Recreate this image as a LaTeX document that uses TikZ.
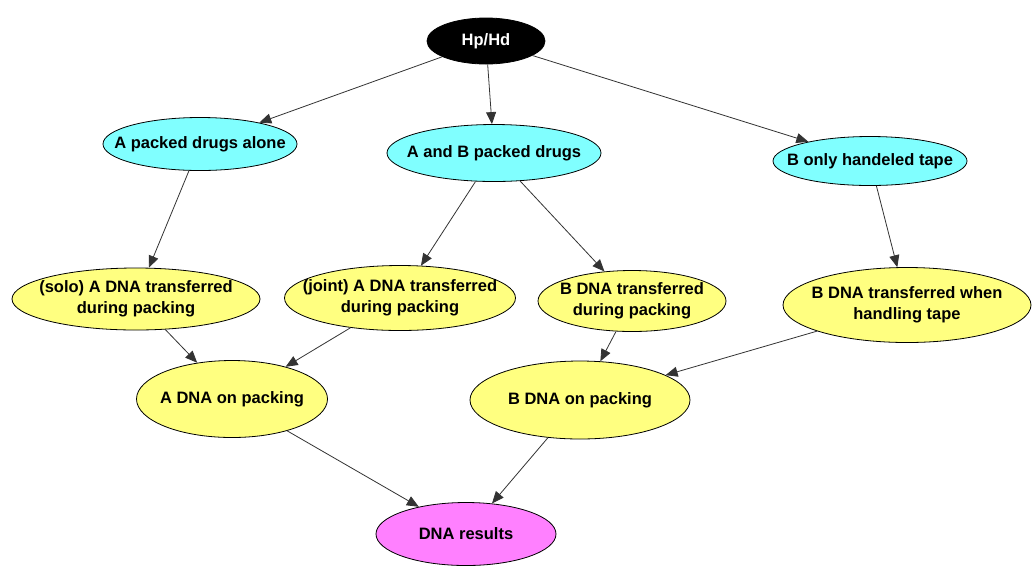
\documentclass[tikz,border=0pt]{standalone}
\usepackage{fontspec}
\setmainfont{Liberation Sans}
\usetikzlibrary{shapes.geometric,arrows.meta}
\definecolor{cyanfill}{HTML}{80FFFF}
\definecolor{yellowfill}{HTML}{FFFF80}
\definecolor{pinkfill}{HTML}{FF80FF}
\begin{document}
\begin{tikzpicture}[x=1pt,y=-1pt,
  nd/.style={ellipse,draw=black,line width=0.8pt,inner xsep=-50pt,inner ysep=-20pt,align=center,
    font=\fontsize{16.5}{20.5}\selectfont\bfseries},
  cy/.style={nd,fill=cyanfill},
  yl/.style={nd,fill=yellowfill},
  pk/.style={nd,fill=pinkfill},
  conn/.style={draw=black!80,line width=0.8pt,-{Triangle[length=12pt,width=10pt]}}]
\useasboundingbox (0,0) rectangle (1032,566);
\fill[white] (0,0) rectangle (1032,566);
\node[nd,fill=black,text=white,inner xsep=-20pt,minimum width=118,minimum height=46] (h) at (486,41) {Hp/Hd};
\node[cy,minimum width=194,minimum height=53] (ap) at (200,144) {A packed drugs alone};
\node[cy,minimum width=214,minimum height=57] (abp) at (494,153) {A and B packed drugs};
\node[cy,minimum width=194,minimum height=49] (bt) at (870,161) {B only handeled tape};
\node[yl,minimum width=248,minimum height=62] (solo) at (136,299) {(solo) A DNA transferred\\during packing};
\node[yl,minimum width=231,minimum height=65] (joint) at (400,298) {(joint) A DNA transferred\\during packing};
\node[yl,minimum width=188,minimum height=61] (bdp) at (632,301) {B DNA transferred\\during packing};
\node[yl,minimum width=248,minimum height=75] (bht) at (907,305) {B DNA transferred when\\handling tape};
\node[yl,minimum width=191,minimum height=77] (adna) at (232,399) {A DNA on packing};
\node[yl,minimum width=220,minimum height=78] (bdna) at (580,400) {B DNA on packing};
\node[pk,minimum width=180,minimum height=63] (res) at (466,534) {DNA results};
\draw[conn] (h) -- (ap);
\draw[conn] (h) -- (abp);
\draw[conn] (h) -- (bt);
\draw[conn] (ap) -- (solo);
\draw[conn] (abp) -- (joint);
\draw[conn] (abp) -- (bdp);
\draw[conn] (bt) -- (bht);
\draw[conn] (solo) -- (adna);
\draw[conn] (joint) -- (adna);
\draw[conn] (bdp) -- (bdna);
\draw[conn] (bht) -- (bdna);
\draw[conn] (adna) -- (res);
\draw[conn] (bdna) -- (res);
\end{tikzpicture}
\end{document}
